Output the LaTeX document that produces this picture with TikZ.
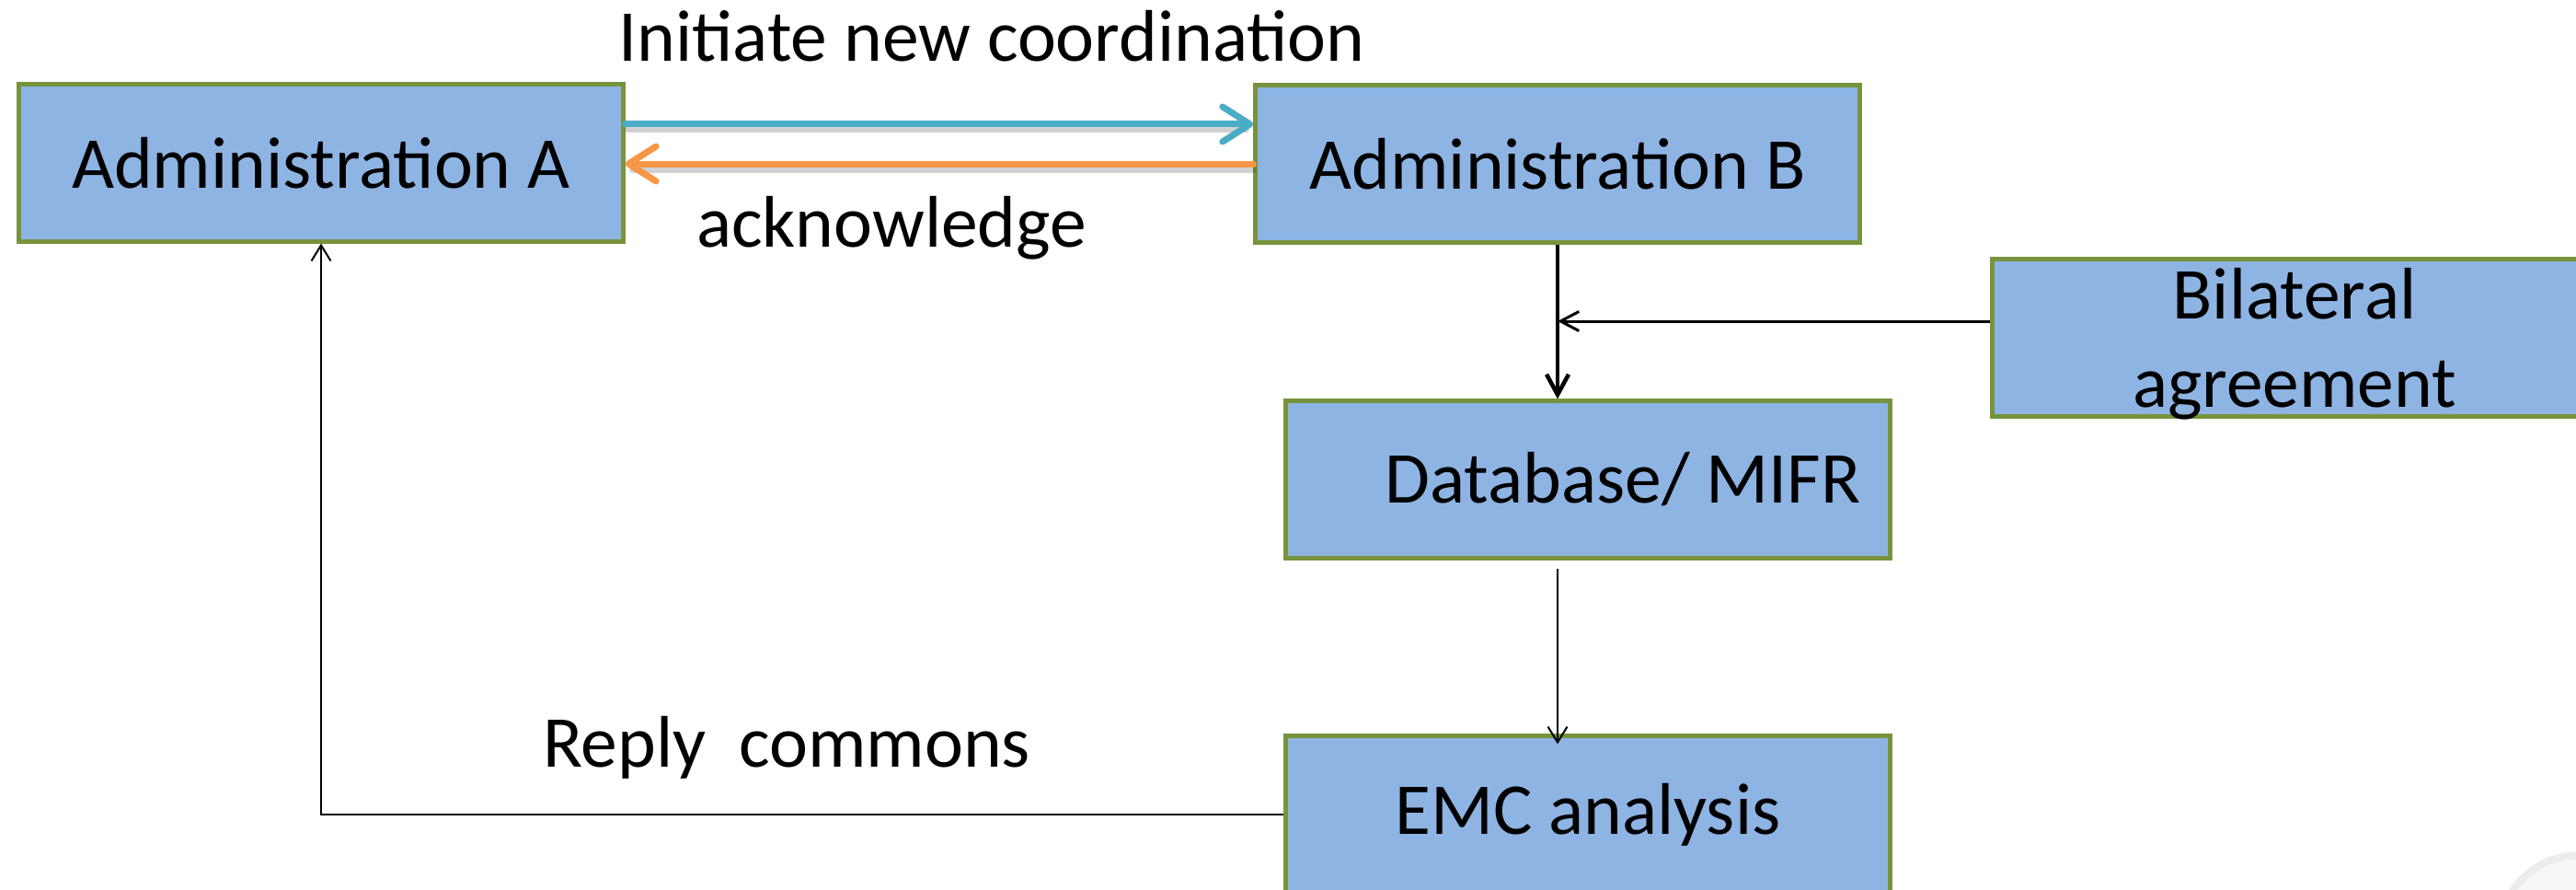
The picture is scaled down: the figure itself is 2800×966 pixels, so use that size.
\documentclass[tikz,border=0pt]{standalone}
\usepackage{fontspec}
\setmainfont{Carlito}
\usetikzlibrary{arrows.meta,calc}
\definecolor{boxfill}{HTML}{8EB4E3}
\definecolor{boxline}{HTML}{77933C}
\definecolor{cyanarr}{HTML}{4BACC6}
\definecolor{orangearr}{HTML}{F79646}
\definecolor{ringgray}{HTML}{ECECEC}
\definecolor{ringfill}{HTML}{F7F7F7}
\begin{document}
\begin{tikzpicture}[x=0.01cm,y=-0.01cm,
  box/.style={draw=boxline, line width=0.05cm, fill=boxfill, minimum width=6.56cm,
    minimum height=1.70cm, inner sep=0pt, font=\fontsize{22.6}{27.3}\selectfont},
  lbl/.style={font=\fontsize{22.6}{27.3}\selectfont, inner sep=0pt, anchor=base},
  colarrow/.style={line width=0.07cm, line cap=round, -{Straight Barb[length=0.3cm,width=0.38cm,round]}},
  arrshadow/.style={line width=0.07cm, line cap=round, draw=black, opacity=0.18},
  thinarrow/.style={draw=black, line width=0.02cm, -{Straight Barb[length=0.17cm,width=0.21cm]}},
  midarrow/.style={draw=black, line width=0.03cm, -{Straight Barb[length=0.2cm,width=0.21cm]}},
  thickarrow/.style={draw=black, line width=0.045cm, -{Straight Barb[length=0.22cm,width=0.24cm]}}
]
\useasboundingbox (0,0) rectangle (2800,966);
\fill[white] (0,0) rectangle (2800,966);

% faint decoration in the corner
\filldraw[draw=ringgray, fill=ringfill, line width=0.08cm] (2800,1011) circle [radius=0.81cm];

% boxes
\node[box] (A) at (349,177) {Administration A};
\node[box] (B) at (1693,178) {Administration B};
\node[box] (bil) at (2494,367) {};
\node[lbl, align=center] (bilt) at (2494,442) {Bilateral\\agreement};
\node[box] (D) at (1726,521) {\hspace{0.76cm}Database/ MIFR};
\node[box] (E) at (1726,885) {EMC analysis};

% labels
\node[lbl] (init) at (1078,66) {Initiate new coordination};
\node[lbl] (ack) at (969,268) {acknowledge};
\node[lbl] (reply) at (855,833) {Reply\ \ commons};

% coloured arrows with faint shadow
\coordinate (c1) at ([yshift=0.42cm]A.east);
\coordinate (c2) at (c1 -| B.west);
\coordinate (o1) at ([yshift=-0.01cm]A.east);
\coordinate (o2) at (o1 -| B.west);
\draw[arrshadow] ($(c1)+(3,6)$) -- ($(c2)+(-8,6)$);
\draw[arrshadow] ($(o2)+(0,6)$) -- ($(o1)+(8,6)$);
\draw[colarrow, draw=cyanarr] (c1) -- (c2);
\draw[colarrow, draw=orangearr] (o2) -- (o1);

% black connectors
\coordinate (dtop) at (B.south |- D.north);
\draw[thickarrow] (B.south) -- (dtop);
\coordinate (bw) at ([yshift=0.18cm]bil.west);
\coordinate (join) at (bw -| B.south);
\draw[midarrow] (bw) -- (join);
\coordinate (dbot) at ([yshift=-0.09cm]B.south |- D.south);
\coordinate (etop) at ([yshift=-0.11cm]B.south |- E.north);
\draw[thinarrow] (dbot) -- (etop);
\coordinate (corner) at (A.south |- E.west);
\draw[thinarrow] (E.west) -- (corner) -- (A.south);
\end{tikzpicture}
\end{document}
